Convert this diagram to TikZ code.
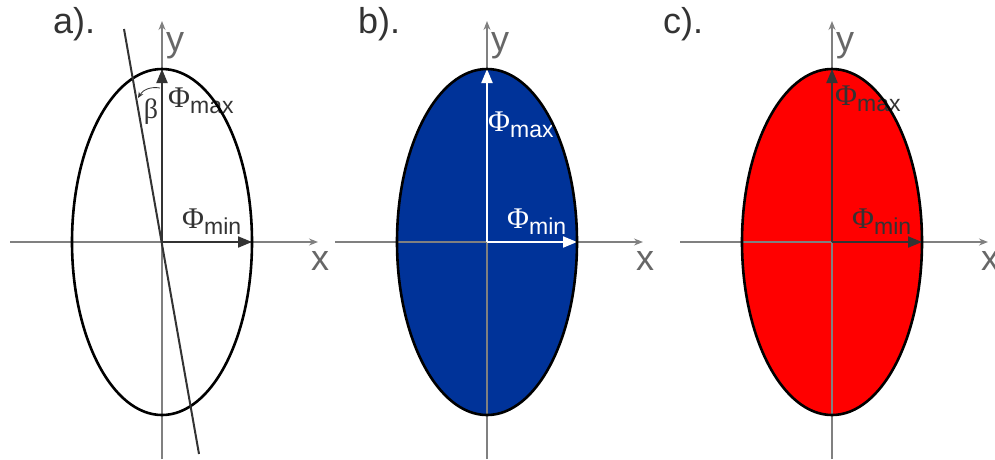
\documentclass[tikz,border=0pt]{standalone}
\usepackage{fontspec}
\setmainfont{Liberation Sans}
\newfontfamily\greekf{Liberation Serif}
\usetikzlibrary{arrows.meta}
\definecolor{fluxblue}{HTML}{003399}
\definecolor{fluxred}{HTML}{FF0000}
\definecolor{axisgray}{HTML}{808080}
\definecolor{inkgray}{HTML}{333333}
\newcommand{\philabel}[1]{{\greekf\fontsize{30}{30}\selectfont\symbol{"03A6}}\raisebox{-6pt}{\fontsize{23}{23}\selectfont #1}}
\tikzset{
  axis/.style={draw=axisgray, line width=1.3pt, -{Stealth[length=9pt,width=7pt,inset=3pt]}},
  vec/.style={line width=2pt, -{Triangle[length=14pt,width=11pt]}},
  big/.style={font=\fontsize{36}{36}\selectfont, inner sep=0pt},
}
\begin{document}
\begin{tikzpicture}[x=1pt, y=-1pt]
\useasboundingbox (0,0) rectangle (995,459);
  %% three panels: a) empty, b) blue, c) red
  \foreach \p/\cx/\lx/\fillc/\vecc/\my/\mx in {a/162/53/white/inkgray/107/6, b/487/358/fluxblue/white/131/1, c/832/663/fluxred/inkgray/105/3}{
    \coordinate (O\p) at (\cx,242);
    \coordinate (T\p) at (\cx,69);
    \coordinate (R\p) at (\cx+90,242);
    \coordinate (xl\p) at (\cx-152,242);
    \coordinate (xr\p) at (\cx+156,242);
    \coordinate (yb\p) at (\cx,459);
    \coordinate (yt\p) at (\cx,21);
    \fill[\fillc] (O\p) ellipse [x radius=90, y radius=173];
    % axes
    \draw[axis] (xl\p) -- (xr\p);
    \draw[axis] (yb\p) -- (yt\p);
    \node[big, text=inkgray, anchor=base west] (n\p) at (\lx,33) {\p).};
    \node[big, text=axisgray!80!black, anchor=base west] (y\p) at (\cx+4,51) {y};
    \node[big, text=axisgray!80!black, anchor=base west] (x\p) at (\cx+149,270) {x};
    % flux vectors
    \draw[vec, draw=\vecc, fill=\vecc] (O\p) -- (T\p);
    \draw[vec, draw=\vecc, fill=\vecc] (O\p) -- (R\p);
    \node[inner sep=0pt, text=\vecc, anchor=base west] (max\p) at (\cx+\mx,\my) {\philabel{max}};
    \node[inner sep=0pt, text=\vecc, anchor=base west] (min\p) at (\cx+20,228) {\philabel{min}};
    \draw[black, line width=2.6pt] (O\p) ellipse [x radius=90, y radius=173];
  }
  % tilted axis and angle in a)
  \coordinate (la) at (124,29);
  \coordinate (lb) at (199,454);
  \draw[inkgray, line width=2pt] (la) -- (lb);
  \coordinate (b1) at (160,88);
  \coordinate (b2) at (138,98);
  \draw[inkgray, line width=0.8pt, -{Stealth[length=6pt,width=5pt]}] (b1) to[bend right=35] (b2);
  \node[inner sep=0pt, text=inkgray, font=\greekf\fontsize{28}{28}\selectfont] (beta) at (151,112) {\symbol{"03B2}};
\end{tikzpicture}
\end{document}
